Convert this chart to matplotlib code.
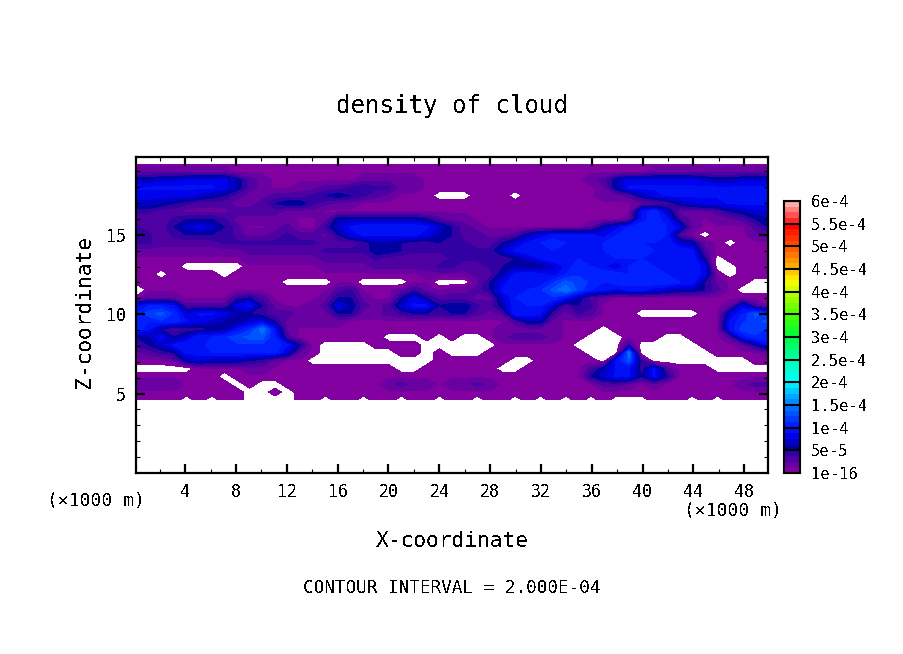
import matplotlib
matplotlib.use('Agg')
import matplotlib.pyplot as plt
import numpy as np
from matplotlib.colors import LinearSegmentedColormap, BoundaryNorm

plt.rcParams['font.family'] = ['DejaVu Sans Mono']
plt.rcParams['text.antialiased'] = False

# grid, values in 1e-5, negative means no cloud (white)
x_km = np.linspace(0.125, 49.875, 51)
z_km = np.linspace(4.6, 19.45, 31)
density_rows = [
    [1,1,1,1,-1,1,-1,1,1,-1, -1,-1,-1,1,1,-1,1,1,-1,1, 1,-1,1,1,-1,1,1,-1,1,1, -1,1,-1,1,-1,1,-1,1,-1,-1, -1,1,1,1,-1,1,-1,1,1,1, 1],
    [1,1,1,1,1,1,1,1,1,-1, -1,1,-1,1,1,1,1,1,1,1, 1,1,1,1,1,1,1,1,1,1, 1,1,1,1,1,1,1,1,1,1, 1,1,1,1,1,1,1,1,1,1, 1],
    [2,2,2,2,1,1,1,1,-1,1, -1,-1,1,1,1,1,1,1,1,1, 2,3,2,2,1,2,2,3,2,1, 1,1,1,1,1,1,1,3,3,2, 1,2,1,1,1,1,1,1,2,3, 3],
    [1,1,1,1,1,1,1,-1,1,1, 1,1,1,1,1,1,1,1,1,1, 1,1,1,1,1,1,1,1,1,1, 1,1,1,1,1,1,5,7,9,9, 5,9,5,1,1,1,1,1,1,1, 1],
    [-1,-1,-1,-1,-1,1,1,1,1,2, 2,1,1,1,1,1,1,1,1,1, 1,-1,-1,1,1,1,1,1,1,-1, -1,1,1,1,1,1,3,6,9,9, 4,9,3,1,1,1,-1,-1,-1,-1, -1],
    [1,1,1,2,6,7,6,6,6,5, 4,2,1,1,-1,-1,-1,-1,-1,-1, -1,-1,-1,-1,1,1,1,1,1,1, -1,-1,1,1,1,1,1,-1,9,13, 4,-1,-1,-1,-1,-1,-1,-1,-1,1, 1],
    [2,3,4,5,9,10,10,10,10,10, 10,10,7,2,1,-1,-1,-1,-1,-1, -1,1,1,-1,1,-1,-1,-1,1,1, 1,1,1,1,1,1,-1,-1,-1,15, -1,-1,-1,-1,-1,-1,1,1,1,1, 2],
    [4,5,7,9,10,9,11,11,11,11, 11,11,9,5,1,-1,-1,-1,-1,1, 1,1,1,-1,-1,-1,-1,-1,-1,1, 1,1,1,1,1,-1,-1,-1,-1,4, -1,-1,-1,-1,-1,1,1,1,2,5, 9],
    [5,6,9,5,7,10,10,11,12,13, 13,10,3,1,1,1,1,1,1,1, -1,-1,-1,1,-1,1,-1,-1,1,2, 3,3,3,2,1,1,-1,-1,-1,1, 1,1,-1,-1,1,1,1,3,9,11, 11],
    [11,9,5,3,4,4,5,5,9,11, 15,9,2,1,1,1,1,1,1,1, 1,1,1,1,1,1,1,1,1,2, 2,2,2,2,1,1,1,-1,1,1, 1,1,1,1,1,1,1,9,12,12, 11],
    [11,10,11,11,9,8,7,6,5,7, 8,5,2,2,2,2,2,1,1,1, 1,1,1,1,1,1,1,1,1,1, 3,6,6,2,1,1,1,1,1,1, 1,1,1,1,1,1,1,9,11,12, 13],
    [10,12,13,11,7,9,9,8,6,5, 4,3,3,2,2,2,5,5,2,2, 3,4,5,5,4,5,5,3,2,3, 10,10,9,4,2,4,3,1,1,1, -1,-1,-1,-1,-1,1,1,7,10,13, 11],
    [8,10,10,9,3,3,3,3,8,9, 5,2,1,1,2,3,8,6,3,2, 3,7,9,9,5,6,6,4,3,6, 10,10,10,7,3,5,4,1,1,1, 1,1,1,1,1,1,1,2,8,3, 1],
    [1,2,2,2,1,1,1,1,4,5, 3,1,1,1,1,2,5,5,2,1, 1,5,8,5,3,3,3,2,2,7, 10,11,11,11,9,6,3,2,1,1, 1,1,1,1,1,1,1,1,1,1, 1],
    [-3,1,1,1,1,1,1,1,1,1, 1,1,1,1,1,1,3,4,1,1, 1,2,4,2,1,2,2,3,5,9, 10,10,11,13,15,12,10,9,8,9, 9,8,7,6,6,5,3,1,-1,-1, -1],
    [1,1,1,1,1,1,1,1,1,1, 1,1,-1,-1,-1,-1,1,1,-1,-1, -1,-1,1,1,-1,-1,-1,2,5,8, 10,9,9,11,13,12,11,10,11,11, 11,11,11,10,10,5,2,1,1,-1, -1],
    [1,1,-1,1,1,1,1,-1,1,1, 1,1,1,1,1,1,1,1,1,1, 1,1,1,2,2,2,2,3,3,6, 9,10,9,8,10,11,11,11,11,10, 11,11,10,10,10,8,1,-1,1,1, 1],
    [1,1,1,1,-1,-1,-1,-1,-1,1, 1,1,1,1,1,2,2,2,2,3, 3,3,3,3,4,4,3,3,4,5, 6,5,5,7,9,11,10,9,7,10, 11,10,9,10,10,8,-1,-1,1,1, 1],
    [1,1,1,1,1,1,1,1,1,2, 2,2,2,2,2,3,3,3,3,4, 3,3,3,3,3,4,4,4,4,4, 5,7,9,10,9,10,10,9,10,10, 10,10,10,10,10,5,-1,1,1,1, 1],
    [2,2,2,2,2,2,2,2,2,3, 3,3,3,3,3,4,4,4,4,6, 6,5,4,4,4,5,5,4,4,7, 9,10,10,10,10,10,9,10,11,11, 11,10,10,10,9,3,1,1,1,1, 1],
    [4,4,3,3,3,3,3,4,4,4, 4,4,4,4,4,3,3,3,4,6, 6,5,4,4,5,4,4,3,3,5, 7,9,10,11,10,10,10,10,11,11, 10,10,10,7,6,2,1,-1,1,1, 1],
    [5,4,3,4,5,5,5,5,3,2, 2,3,4,3,3,2,5,8,9,9, 9,9,9,8,6,5,3,3,2,2, 3,6,8,9,9,9,9,8,10,11, 11,11,10,3,1,-1,1,1,1,2, 3],
    [4,3,3,5,7,8,7,5,3,1, 1,2,3,1,1,4,7,9,10,10, 10,10,10,9,7,5,3,2,1,1, 1,1,1,1,1,1,2,6,8,10, 11,11,10,8,2,1,1,1,1,3, 5],
    [3,3,3,4,5,5,5,4,2,2, 2,2,2,1,1,2,6,6,6,6, 6,6,6,5,3,2,2,1,1,1, 1,1,1,1,1,1,1,1,1,2, 9,11,9,4,2,1,2,2,3,5, 6],
    [4,4,3,3,2,2,2,2,3,3, 3,3,2,2,2,1,1,1,1,1, 1,1,1,1,1,1,1,1,1,1, 1,1,1,1,1,1,1,1,1,1, 9,11,7,2,2,2,3,5,6,7, 7],
    [7,7,6,5,4,3,3,3,2,2, 3,5,6,6,4,3,2,2,1,1, 1,1,1,1,1,1,1,1,1,1, 1,1,1,1,1,1,1,1,1,1, 2,2,3,6,7,8,8,9,9,9, 9],
    [8,8,8,8,8,7,6,5,3,2, 2,3,3,3,4,5,6,5,4,3, 2,1,1,1,-1,-1,-1,1,1,1, -1,1,1,1,1,1,1,2,2,3, 6,8,9,9,9,9,9,9,9,9, 9],
    [9,9,9,9,9,9,9,8,6,3, 2,1,1,2,2,3,3,4,5,4, 4,2,2,1,1,1,1,1,1,1, 1,1,1,1,1,1,1,2,6,9, 9,9,9,9,9,9,9,9,9,9, 9],
    [6,6,7,7,8,8,8,8,6,3, 2,1,1,1,1,1,1,1,2,2, 2,2,2,1,1,1,1,1,1,1, 1,1,1,1,1,1,2,3,6,8, 8,8,8,8,8,7,6,6,7,7, 7],
    [2,2,2,2,2,2,2,2,1,1, 1,1,1,1,1,1,1,1,1,1, 1,1,1,1,1,1,1,1,1,1, 1,1,1,1,1,1,1,1,1,1, 1,2,2,2,2,2,2,2,2,2, 2],
    [1,1,1,1,1,1,1,1,1,1, 1,1,1,1,1,1,1,1,1,1, 1,1,1,1,1,1,1,1,1,1, 1,1,1,1,1,1,1,1,1,1, 1,1,1,1,1,1,1,1,1,1, 1],
]
density = np.array(density_rows) * 1e-5

cbar_labels = ['1e-16', '5e-5', '1e-4', '1.5e-4', '2e-4', '2.5e-4', '3e-4',
               '3.5e-4', '4e-4', '4.5e-4', '5e-4', '5.5e-4', '6e-4']
major_levels = np.arange(13) * 5e-5
levels = np.arange(49) * 1.25e-5

color_stops = [
    (0.0, (130, 0, 160)), (5.0, (25, 0, 165)), (5.01, (0, 0, 160)), (7.5, (0, 0, 235)), (10.0, (0, 30, 255)),
    (15.0, (0, 130, 255)), (20.0, (0, 255, 255)), (25.0, (0, 255, 170)), (30.0, (0, 255, 60)),
    (35.0, (70, 255, 0)), (40.0, (190, 255, 0)), (42.5, (255, 255, 0)), (45.0, (255, 190, 0)),
    (50.0, (255, 90, 0)), (55.0, (255, 0, 0)), (60.0, (255, 170, 170)),
]
cmap = LinearSegmentedColormap.from_list(
    'cloud', [(v / 60, tuple(c / 255 for c in rgb)) for v, rgb in color_stops], N=512)
norm = BoundaryNorm(levels, cmap.N)

W, H = 904, 654
fig = plt.figure(figsize=(W / 100, H / 100), dpi=100)
ax = fig.add_axes([136 / W, 1 - 473 / H, 632 / W, 316 / H])

ax.contourf(x_km, z_km, density, levels=levels, cmap=cmap, norm=norm, antialiased=False)
ax.set_xlim(0.125, 49.875)
ax.set_ylim(0, 19.9)

ax.set_xticks(np.arange(4, 49, 4))
ax.set_xticks(np.arange(2, 50, 2), minor=True)
ax.set_yticks([5, 10, 15])
ax.set_yticks(np.arange(1, 20), minor=True)
ax.tick_params(which='major', direction='in', length=6.5, width=1.6, top=True, right=True,
               labelsize=12, pad=7)
ax.tick_params(which='minor', direction='in', length=3, width=0.8, top=True, right=True)
for spine in ax.spines.values():
    spine.set_linewidth(1.6)

# colour bar
cax = fig.add_axes([784 / W, 1 - 473 / H, 16 / W, 272 / H])
cax.pcolormesh([0, 1], levels, (levels[:-1] + 6e-6).reshape(-1, 1), cmap=cmap, norm=norm)
for lev in major_levels:
    cax.axhline(lev, color='black', lw=1.5)
cax.set_xlim(0, 1)
cax.set_ylim(0, 6e-4)
cax.set_xticks([])
cax.yaxis.tick_right()
cax.set_yticks(major_levels)
cax.set_yticklabels(cbar_labels)
cax.tick_params(length=0, labelsize=11.2, pad=8)
for spine in cax.spines.values():
    spine.set_linewidth(1.5)

fig.text(452 / W, 1 - 106 / H, 'density of cloud', fontsize=17.4, ha='center', va='center')
fig.text(452 / W, 1 - 541 / H, 'X-coordinate', fontsize=15.3, ha='center', va='center')
fig.text(84 / W, 1 - 312 / H, 'Z-coordinate', fontsize=15.3, rotation=90, ha='center', va='center')
fig.text(96 / W, 1 - 501 / H, '(×1000 m)', fontsize=13, ha='center', va='center')
fig.text(733 / W, 1 - 511 / H, '(×1000 m)', fontsize=13, ha='center', va='center')
fig.text(452 / W, 1 - 588 / H, 'CONTOUR INTERVAL = 2.000E-04', fontsize=12.7, ha='center', va='center')

fig.savefig('out.png', dpi=100)
